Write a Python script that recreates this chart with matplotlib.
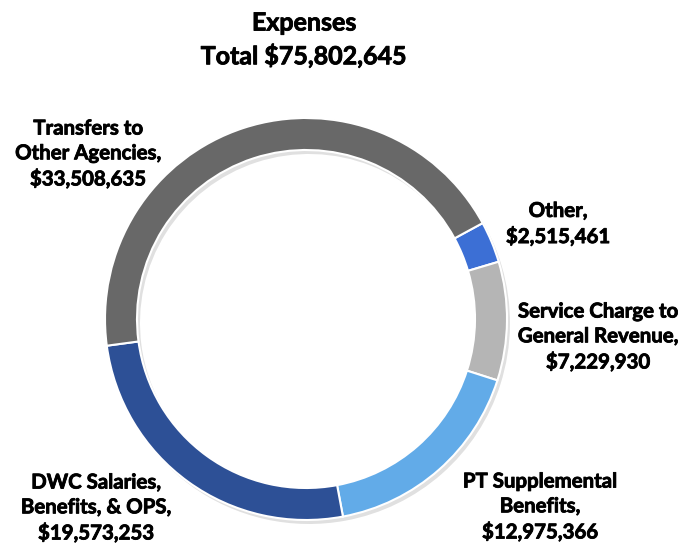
import matplotlib
matplotlib.use("Agg")
import matplotlib.pyplot as plt
import matplotlib.patheffects as pe

title_lines = ["Expenses", "Total $75,802,645"]
categories = ["Other", "Service Charge to\nGeneral Revenue", "PT Supplemental\nBenefits",
              "DWC Salaries,\nBenefits, & OPS", "Transfers to\nOther Agencies"]
values = [2515461, 7229930, 12975366, 19573253, 33508635]
colors = ["#3c6fd5", "#b5b5b5", "#62abe8", "#2d5096", "#686868"]

W, H = 683, 549
fig = plt.figure(figsize=(W / 100, H / 100), dpi=100)
ax = fig.add_axes([0, 0, 1, 1])

cx, cy = 306, H - 319
R, ring = 201, 32

# soft shadow
ax.pie(values, radius=R, center=(cx + 3, cy - 4), startangle=28.5, counterclock=False,
       colors=["#000000"] * len(values), frame=True,
       wedgeprops=dict(width=ring, alpha=0.12, linewidth=0))
ax.pie(values, radius=R, center=(cx, cy), startangle=28.5, counterclock=False,
       colors=colors, frame=True,
       wedgeprops=dict(width=ring, edgecolor="white", linewidth=1.5))
ax.set_xlim(0, W)
ax.set_ylim(0, H)
ax.set_aspect("equal")
ax.axis("off")

font = "Lato"
thick = [pe.withStroke(linewidth=0.6, foreground="black")]
ax.text(304, H - 23, title_lines[0], ha="center", va="center", fontsize=18,
        fontweight="bold", family=font, path_effects=thick)
ax.text(304, H - 56, title_lines[1], ha="center", va="center", fontsize=18,
        fontweight="bold", family=font, path_effects=thick)

label_pos = [(88, H - 154), (558, H - 224), (598, H - 337), (540, H - 507), (96, H - 508)]
label_pos = [label_pos[1], label_pos[2], label_pos[3], label_pos[4], label_pos[0]]
for name, v, (x, y) in zip(categories, values, label_pos):
    ax.text(x, y, f"{name},\n${v:,}", ha="center", va="center", fontsize=14.7,
            fontweight="bold", family=font, linespacing=1.3, path_effects=thick)

fig.savefig("out.png", dpi=100)
